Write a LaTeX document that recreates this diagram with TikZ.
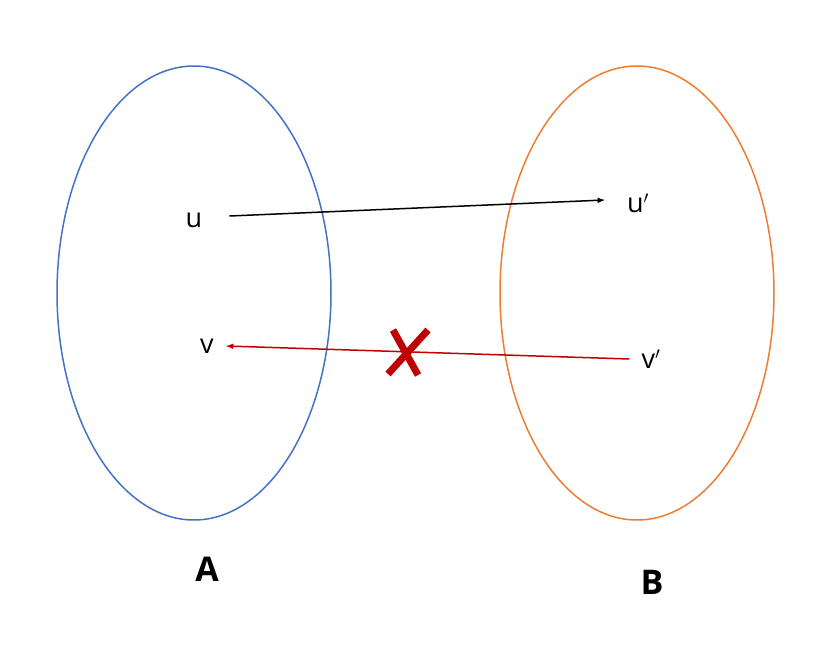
\documentclass[tikz,border=0pt]{standalone}
\usepackage{fontspec}
\setmainfont{Open Sans}
\begin{document}
\begin{tikzpicture}[x=1pt,y=-1pt,
every node/.style={inner sep=0pt, font=\fontsize{27}{30}\selectfont},
setlabel/.style={font=\fontsize{34}{40}\selectfont\bfseries},
map/.style={-latex, line width=1.5pt},
cross/.style={draw=red!75!black, line width=7pt}
]
\useasboundingbox (0,0) rectangle (815,656);
% the two sets
\draw[draw={rgb,255:red,68;green,114;blue,196}, line width=1.5pt] (194,293) ellipse [x radius=137, y radius=227];
\draw[draw={rgb,255:red,237;green,125;blue,49}, line width=1.5pt] (637,293) ellipse [x radius=137, y radius=227];
\node[setlabel] (A) at (207,569) {A};
\node[setlabel] (B) at (652,582) {B};
% elements
\node (u) at (194,220) {u};
\node (u') at (638,203) {u$'$};
\node (v) at (207,346) {v};
\node (v') at (651,359) {v$'$};
\draw[map] ([xshift=27pt,yshift=4pt]u.east) -- ([xshift=-22pt,yshift=3pt]u'.west);
\draw[map, draw={rgb,255:red,192;green,0;blue,0}] ([xshift=-12pt]v'.west) -- ([xshift=12pt]v.east);
% forbidden
\draw[cross, draw={rgb,255:red,192;green,0;blue,0}] (393,330) -- (418,375);
\draw[cross, draw={rgb,255:red,192;green,0;blue,0}] (428,330) -- (388,374);
\end{tikzpicture}
\end{document}
